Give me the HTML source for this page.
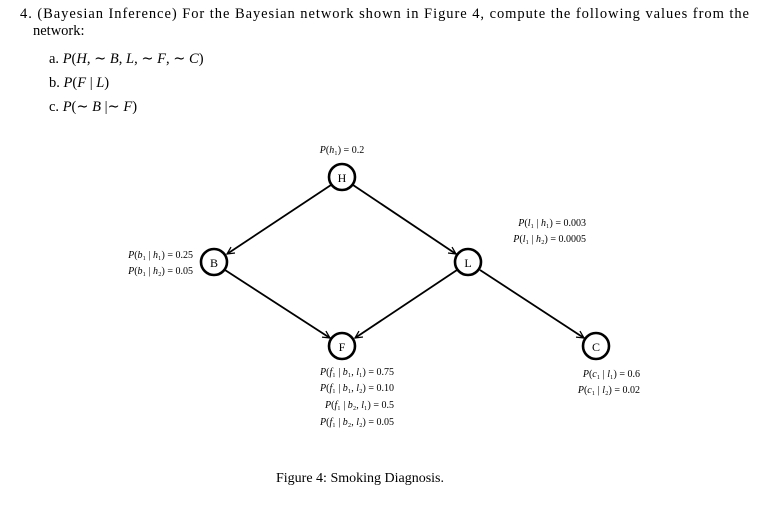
<!DOCTYPE html>
<html><head><meta charset="utf-8"><style>
html,body{margin:0;padding:0;background:#fff;}
svg{display:block;}
text{font-family:"Liberation Serif","DejaVu Serif",serif;fill:#000;}
.m{font-size:10px;}
.i{font-style:italic;}
</style></head><body>
<svg width="771" height="524" viewBox="0 0 771 524" xmlns="http://www.w3.org/2000/svg">
<defs>
<marker id="a" viewBox="0 0 10 10" refX="9" refY="5" markerWidth="9" markerHeight="9" orient="auto" markerUnits="userSpaceOnUse">
<path d="M1,1 L9,5 L1,9" fill="none" stroke="#000" stroke-width="1.4"/>
</marker>
</defs>
<text x="20" y="18" font-size="14.5" textLength="729" lengthAdjust="spacing">4. (Bayesian Inference) For the Bayesian network shown in Figure 4, compute the following values from the</text>
<text x="33" y="35" font-size="14.5">network:</text>
<text x="49" y="63" font-size="14.5">a. <tspan class="i">P</tspan>(<tspan class="i">H</tspan>, ∼ <tspan class="i">B</tspan>, <tspan class="i">L</tspan>, ∼ <tspan class="i">F</tspan>, ∼ <tspan class="i">C</tspan>)</text>
<text x="49" y="87" font-size="14.5">b. <tspan class="i">P</tspan>(<tspan class="i">F</tspan> | <tspan class="i">L</tspan>)</text>
<text x="49" y="111" font-size="14.5">c. <tspan class="i">P</tspan>(∼ <tspan class="i">B</tspan> |∼ <tspan class="i">F</tspan>)</text>

<g stroke="#000" stroke-width="1.8" fill="none">
<line x1="331" y1="185" x2="227" y2="254" marker-end="url(#a)"/>
<line x1="353" y1="185" x2="456" y2="254" marker-end="url(#a)"/>
<line x1="225" y1="270" x2="330" y2="338" marker-end="url(#a)"/>
<line x1="457" y1="270" x2="355" y2="338" marker-end="url(#a)"/>
<line x1="480" y1="270" x2="584" y2="338" marker-end="url(#a)"/>
</g>
<g stroke="#000" stroke-width="2.6" fill="#fff">
<circle cx="342" cy="177" r="13"/>
<circle cx="214" cy="262" r="13"/>
<circle cx="468" cy="262" r="13"/>
<circle cx="342" cy="346" r="13"/>
<circle cx="596" cy="346" r="13"/>
</g>
<g font-size="12" text-anchor="middle">
<text x="342" y="182">H</text>
<text x="214" y="267">B</text>
<text x="468" y="267">L</text>
<text x="342" y="351">F</text>
<text x="596" y="351">C</text>
</g>
<g class="m">
<text x="342" y="153" text-anchor="middle"><tspan class="i">P</tspan>(<tspan class="i">h</tspan>₁) = 0.2</text>
<text x="193" y="258" text-anchor="end"><tspan class="i">P</tspan>(<tspan class="i">b</tspan>₁ | <tspan class="i">h</tspan>₁) = 0.25</text>
<text x="193" y="274" text-anchor="end"><tspan class="i">P</tspan>(<tspan class="i">b</tspan>₁ | <tspan class="i">h</tspan>₂) = 0.05</text>
<text x="586" y="226" text-anchor="end"><tspan class="i">P</tspan>(<tspan class="i">l</tspan>₁ | <tspan class="i">h</tspan>₁) = 0.003</text>
<text x="586" y="242" text-anchor="end"><tspan class="i">P</tspan>(<tspan class="i">l</tspan>₁ | <tspan class="i">h</tspan>₂) = 0.0005</text>
<text x="394" y="375" text-anchor="end"><tspan class="i">P</tspan>(<tspan class="i">f</tspan>₁ | <tspan class="i">b</tspan>₁, <tspan class="i">l</tspan>₁) = 0.75</text>
<text x="394" y="391" text-anchor="end"><tspan class="i">P</tspan>(<tspan class="i">f</tspan>₁ | <tspan class="i">b</tspan>₁, <tspan class="i">l</tspan>₂) = 0.10</text>
<text x="394" y="408" text-anchor="end"><tspan class="i">P</tspan>(<tspan class="i">f</tspan>₁ | <tspan class="i">b</tspan>₂, <tspan class="i">l</tspan>₁) = 0.5</text>
<text x="394" y="425" text-anchor="end"><tspan class="i">P</tspan>(<tspan class="i">f</tspan>₁ | <tspan class="i">b</tspan>₂, <tspan class="i">l</tspan>₂) = 0.05</text>
<text x="640" y="377" text-anchor="end"><tspan class="i">P</tspan>(<tspan class="i">c</tspan>₁ | <tspan class="i">l</tspan>₁) = 0.6</text>
<text x="640" y="393" text-anchor="end"><tspan class="i">P</tspan>(<tspan class="i">c</tspan>₁ | <tspan class="i">l</tspan>₂) = 0.02</text>
</g>
<text x="276" y="482" font-size="14">Figure 4: Smoking Diagnosis.</text>
</svg>
</body></html>
